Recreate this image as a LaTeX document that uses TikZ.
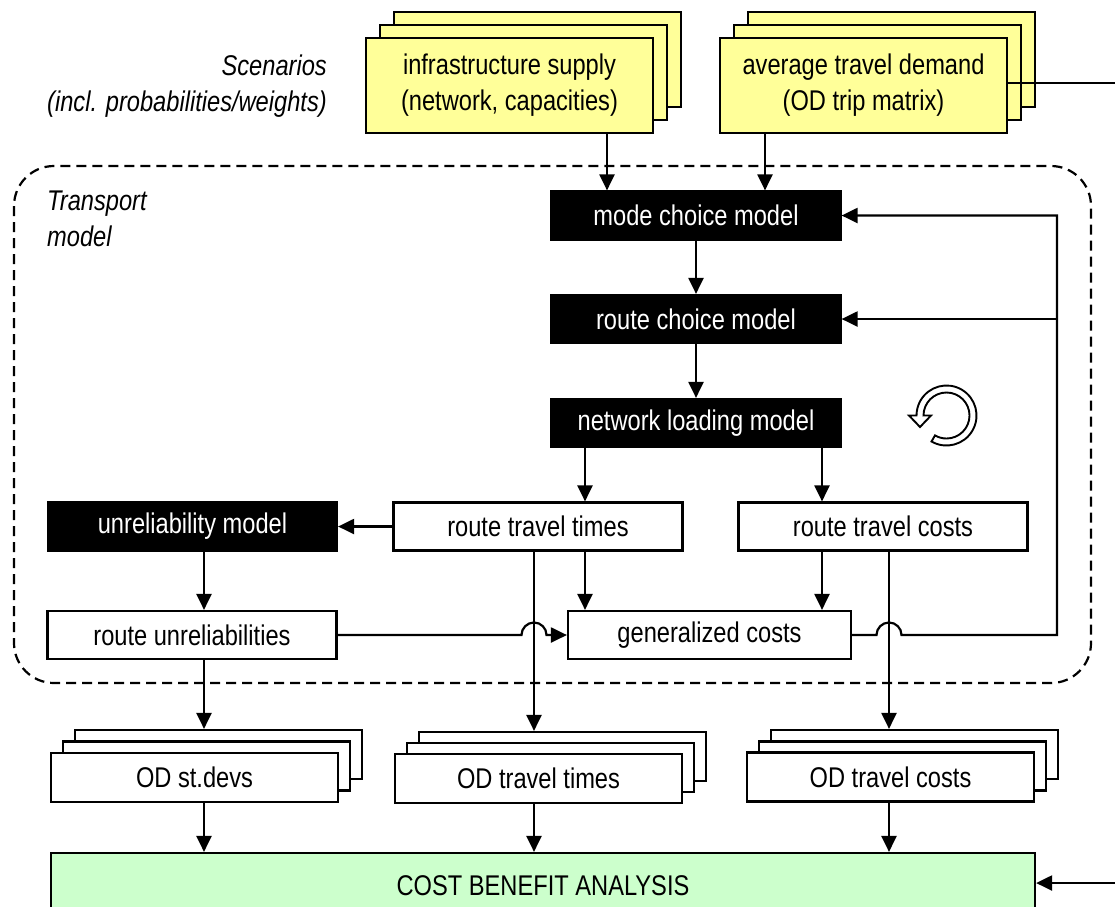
\documentclass[tikz,border=0pt]{standalone}
\usepackage{fontspec}
\setmainfont{Liberation Sans}[FakeStretch=0.83]
\usetikzlibrary{arrows.meta,calc}
\definecolor{ylw}{RGB}{255,255,153}
\definecolor{grn}{RGB}{204,255,204}
\newcommand{\dfont}{\fontsize{28.5}{36}\selectfont}
\begin{document}
\begin{tikzpicture}[x=1pt,y=1pt,
  box/.style={draw, line width=2.2pt, inner sep=0pt, minimum width=289pt, minimum height=48pt, font=\dfont, align=center},
  wbox/.style={box, fill=white},
  bbox/.style={box, fill=black, text=white},
  ybox/.style={box, fill=ylw, minimum width=287pt, minimum height=95pt},
  sbox/.style={box, fill=white, minimum width=287pt, minimum height=49pt},
  lbl/.style={font=\dfont\itshape, inner sep=0pt},
  ln/.style={line width=2.2pt},
  arr/.style={line width=2.2pt, -{Triangle[length=16pt,width=15pt]}},
  frame/.style={line width=2.2pt, dash pattern=on 10pt off 6pt, rounded corners=40pt}
]
\useasboundingbox (0,0) rectangle (1115,-906);

% input stacks
\node[ybox] (inf3) at (537.5,-59.5) {};
\node[ybox] (inf2) at (523.5,-72.5) {};
\node[ybox] (inf) at (509.5,-85.5) {infrastructure supply\\(network, capacities)};
\node[ybox] (avg3) at (891.5,-59.5) {};
\node[ybox] (avg2) at (877.5,-72.5) {};
\node[ybox] (avg) at (863.5,-85.5) {average travel demand\\(OD trip matrix)};

\node[lbl, anchor=east, align=right] (scen) at (327,-86) {Scenarios\\(incl. probabilities/weights)};

% transport model frame
\draw[frame] (14,-166) rectangle (1091,-683);
\node[lbl, anchor=west, align=left] (tm) at (47,-219) {Transport\\model};

% model boxes
\node[bbox] (mcm) at (696,-215.5) {mode choice model};
\node[bbox] (rcm) at (696,-319) {route choice model};
\node[bbox] (nlm) at (696,-423) {network loading model};
\node[bbox] (urm) at (192.5,-526.5) {unreliability model};
\node[wbox] (rtt) at (538,-526.5) {route travel times};
\node[wbox] (rtc) at (883,-526.5) {route travel costs};
\node[wbox] (ru) at (192,-635) {route unreliabilities};
\node[wbox, minimum width=283pt] (gc) at (709.5,-635) {generalized costs};

% output stacks
\node[sbox] (sd3) at (218.5,-754.5) {};
\node[sbox] (sd2) at (206.5,-766) {};
\node[sbox] (sd) at (194.5,-777.5) {OD st.devs};
\node[sbox] (tt3) at (562.5,-756.5) {};
\node[sbox] (tt2) at (550.5,-767.5) {};
\node[sbox] (tt) at (538.5,-778.5) {OD travel times};
\node[sbox] (tc3) at (914.5,-754.5) {};
\node[sbox] (tc2) at (902.5,-766) {};
\node[sbox] (tc) at (890.5,-777) {OD travel costs};

\node[box, fill=grn, minimum width=984pt, minimum height=66pt] (cba) at (543,-886) {COST BENEFIT ANALYSIS};

% reference x positions and free ends
\coordinate (xa) at (607,0);
\coordinate (xb) at (765,0);
\coordinate (xc) at (585,0);
\coordinate (xd) at (822,0);
\coordinate (xe) at (204,0);
\coordinate (xf) at (534,0);
\coordinate (xg) at (889,0);
\coordinate (xh) at (1057,0);
\coordinate (inR) at (1115,-83);
\coordinate (inC) at (1115,-883);

% connectors
\draw[arr] (inf.south -| xa) -- (mcm.north -| xa);
\draw[arr] (avg.south -| xb) -- (mcm.north -| xb);
\draw[ln] (avg.east |- inR) -- (inR);
\draw[arr] (mcm.south) -- (rcm.north);
\draw[arr] (rcm.south) -- (nlm.north);
\draw[arr] (nlm.south -| xc) -- (rtt.north -| xc);
\draw[arr] (nlm.south -| xd) -- (rtc.north -| xd);
\draw[arr] (rtt.west) -- (urm.east);
\draw[arr] (urm.south -| xe) -- (ru.north -| xe);
\draw[arr] (rtt.south -| xc) -- (gc.north -| xc);
\draw[arr] (rtc.south -| xd) -- (gc.north -| xd);
\draw[arr] (ru.south -| xe) -- (sd3.north -| xe);
\draw[arr] (rtt.south -| xf) -- (tt3.north -| xf);
\draw[arr] (rtc.south -| xg) -- (tc3.north -| xg);
\draw[arr] (sd.south -| xe) -- (cba.north -| xe);
\draw[arr] (tt.south -| xf) -- (cba.north -| xf);
\draw[arr] (tc.south -| xg) -- (cba.north -| xg);
\draw[arr] (inC) -- (cba.east |- inC);

\draw[arr] (ru.east) -- ($(xf |- ru.east)+(-12.5,0)$) arc[start angle=180,end angle=0,radius=12.5pt] -- (gc.west);
\draw[arr] (gc.east) -- ($(xg |- gc.east)+(-12.5,0)$) arc[start angle=180,end angle=0,radius=12.5pt] -- (xh |- gc.east) -- (xh |- mcm.east) -- (mcm.east);
\draw[arr] (xh |- rcm.east) -- (rcm.east);

% iteration icon
\coordinate (C) at (946.5,-415.5);
\draw[line width=1.9pt, fill=white, line join=miter]
  ($(C)+(240:30)$) arc[start angle=240,end angle=540,radius=30pt]
  -- (909,-415.5) -- (920,-427) -- (931,-415.5)
  -- ($(C)+(180:23)$) arc[start angle=540,end angle=240,radius=23pt] -- cycle;
\end{tikzpicture}
\end{document}
